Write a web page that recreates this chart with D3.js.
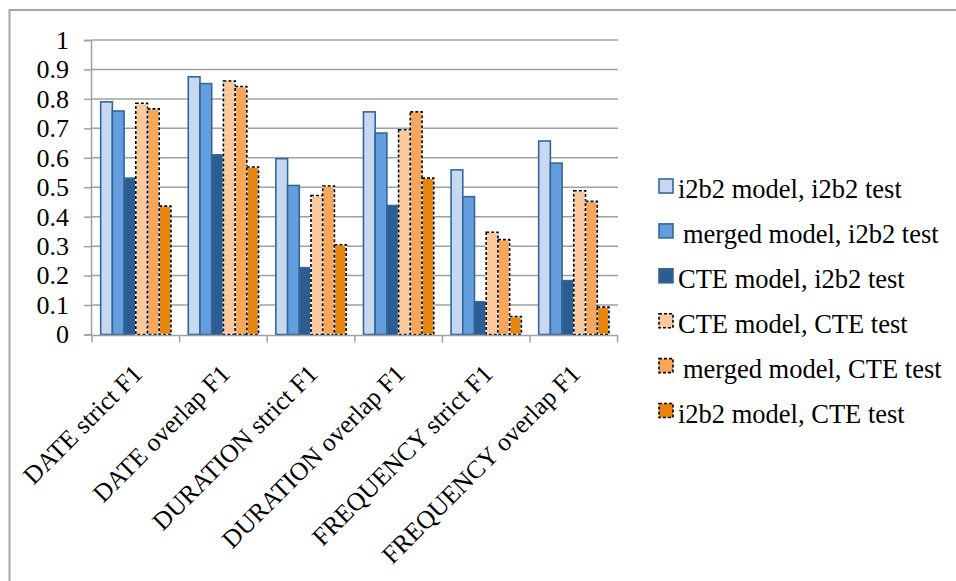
<!DOCTYPE html>
<html>
<head>
<meta charset="utf-8">
<script src="https://cdn.jsdelivr.net/npm/d3@7"></script>
<style>
  body { margin: 0; background: #fff; }
  text { font-family: "Liberation Serif", "Times New Roman", serif; fill: #000; }
</style>
</head>
<body>
<script>
const categories = ["DATE strict F1", "DATE overlap F1", "DURATION strict F1",
  "DURATION overlap F1", "FREQUENCY strict F1", "FREQUENCY overlap F1"];
const seriesNames = ["i2b2 model, i2b2 test", "merged model, i2b2 test", "CTE model, i2b2 test",
  "CTE model, CTE test", "merged model, CTE test", "i2b2 model, CTE test"];
const i2b2ModelI2b2Test = [0.79, 0.875, 0.597, 0.756, 0.559, 0.657];
const mergedModelI2b2Test = [0.759, 0.852, 0.506, 0.684, 0.468, 0.582];
const cteModelI2b2Test = [0.531, 0.61, 0.227, 0.438, 0.111, 0.183];
const cteModelCteTest = [0.785, 0.861, 0.472, 0.695, 0.347, 0.488];
const mergedModelCteTest = [0.766, 0.842, 0.504, 0.756, 0.322, 0.452];
const i2b2ModelCteTest = [0.436, 0.569, 0.305, 0.531, 0.061, 0.093];
const yTicks = [0, 0.1, 0.2, 0.3, 0.4, 0.5, 0.6, 0.7, 0.8, 0.9, 1];

const series = [i2b2ModelI2b2Test, mergedModelI2b2Test, cteModelI2b2Test,
  cteModelCteTest, mergedModelCteTest, i2b2ModelCteTest];
const fills = ["#c6d9f0", "#659ede", "#2b5d92", "#fbc99b", "#f9a65a", "#e8850e"];
const dashed = [false, false, false, true, true, true];

const width = 956, height = 581;
const svg = d3.select("body").append("svg")
  .attr("width", width).attr("height", height);

// outer frame (runs off the right/bottom edge like the original)
svg.append("rect")
  .attr("x", 9.5).attr("y", 10)
  .attr("width", 1000).attr("height", 1000)
  .attr("fill", "none").attr("stroke", "#a6a6a6").attr("stroke-width", 2);

const x = d3.scaleBand().domain(categories).range([92, 617.6]);
const xSub = d3.scaleBand().domain(d3.range(6))
  .range([x.bandwidth() * 0.099, x.bandwidth() * 0.901]);
const y = d3.scaleLinear().domain([0, 1]).range([334.5, 40]);

// gridlines
svg.append("g")
  .selectAll("line")
  .data(yTicks.slice(1))
  .join("line")
  .attr("x1", 92).attr("x2", 618)
  .attr("y1", d => y(d)).attr("y2", d => y(d))
  .attr("stroke", "#a0a0a0").attr("stroke-width", 1.5);

// y axis
const yAxis = svg.append("g")
  .attr("transform", "translate(91,0)")
  .call(d3.axisLeft(y).tickValues(yTicks).tickSize(7).tickPadding(15).tickFormat(d3.format("")));
yAxis.select(".domain").attr("stroke", "#a0a0a0").attr("stroke-width", 1.5);
yAxis.selectAll(".tick line").attr("stroke", "#a0a0a0").attr("stroke-width", 1.5);
yAxis.selectAll("text").attr("font-size", 26).attr("font-family", "Liberation Serif");

// bars
const groups = svg.append("g")
  .selectAll("g")
  .data(categories)
  .join("g")
  .attr("transform", d => `translate(${x(d)},0)`);

series.forEach((vals, s) => {
  const bars = groups.append("rect")
    .attr("x", xSub(s))
    .attr("width", xSub.bandwidth())
    .attr("y", (d, i) => y(vals[i]))
    .attr("height", (d, i) => y(0) - y(vals[i]))
    .attr("fill", fills[s]);
  if (dashed[s]) {
    bars.attr("stroke", "#fff").attr("stroke-width", 1.6);
    groups.append("rect")
      .attr("x", xSub(s))
      .attr("width", xSub.bandwidth())
      .attr("y", (d, i) => y(vals[i]))
      .attr("height", (d, i) => y(0) - y(vals[i]))
      .attr("fill", "none")
      .attr("stroke", "#000").attr("stroke-width", 1.6)
      .attr("stroke-dasharray", "3,2");
  } else {
    bars.attr("stroke", "#346698").attr("stroke-width", 1.6);
  }
});

// x axis
const xAxis = svg.append("g").attr("transform", "translate(0,335.5)");
xAxis.append("line")
  .attr("x1", 91).attr("x2", 618)
  .attr("stroke", "#a0a0a0").attr("stroke-width", 1.5);
xAxis.selectAll(".tk")
  .data(categories.concat(["end"]))
  .join("line")
  .attr("class", "tk")
  .attr("x1", (d, i) => i < categories.length ? x(d) : x.range()[1])
  .attr("x2", (d, i) => i < categories.length ? x(d) : x.range()[1])
  .attr("y1", 0).attr("y2", 7)
  .attr("stroke", "#a0a0a0").attr("stroke-width", 1.5);
xAxis.selectAll(".lbl")
  .data(categories)
  .join("text")
  .attr("class", "lbl")
  .attr("font-size", 25.5)
  .attr("text-anchor", "end")
  .attr("transform", d => `translate(${x(d) + x.bandwidth() / 2 + 8},40) rotate(-45)`)
  .text(d => d);

// legend
const legend = svg.append("g").attr("transform", "translate(659,179)");
const rows = legend.selectAll("g")
  .data(seriesNames)
  .join("g")
  .attr("transform", (d, i) => `translate(0,${i * 44.9})`);
rows.append("rect")
  .attr("width", 14).attr("height", 14)
  .attr("fill", (d, i) => fills[i])
  .attr("stroke", (d, i) => dashed[i] ? "#000" : "#346698")
  .attr("stroke-width", 1.6)
  .attr("stroke-dasharray", (d, i) => dashed[i] ? "3,2" : null);
rows.append("text")
  .attr("x", (d, i) => d.startsWith("merged") ? 24 : 19)
  .attr("y", 19)
  .attr("font-size", 26.5)
  .text(d => d);
</script>
</body>
</html>
